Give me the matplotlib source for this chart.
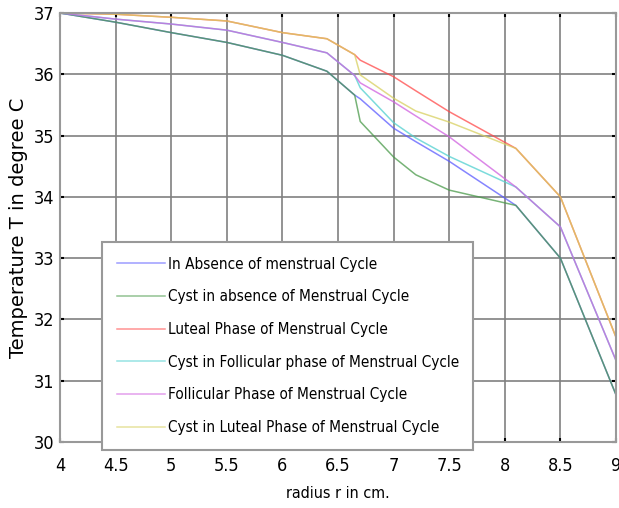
import matplotlib
matplotlib.use("Agg")
import matplotlib.pyplot as plt
from matplotlib.font_manager import FontProperties

# radius samples (cm)
r = [4, 4.5, 5, 5.5, 6, 6.4, 6.65, 6.7, 7, 7.2, 7.5, 8.1, 8.5, 9]

# temperature (deg C)
t_absence = [37, 36.85, 36.68, 36.52, 36.31, 36.05, 35.66, 35.60, 35.12, 34.90, 34.58, 33.86, 33.0, 30.77]
t_cyst_absence = [37, 36.85, 36.68, 36.52, 36.31, 36.05, 35.66, 35.23, 34.65, 34.36, 34.11, 33.86, 33.0, 30.77]
t_luteal = [37, 36.98, 36.93, 36.87, 36.68, 36.58, 36.32, 36.23, 35.96, 35.73, 35.39, 34.79, 34.0, 31.71]
t_cyst_follicular = [37, 36.90, 36.82, 36.72, 36.52, 36.35, 35.98, 35.78, 35.21, 34.96, 34.66, 34.16, 33.51, 31.33]
t_follicular = [37, 36.90, 36.82, 36.72, 36.52, 36.35, 35.98, 35.86, 35.55, 35.32, 34.98, 34.16, 33.51, 31.33]
t_cyst_luteal = [37, 36.98, 36.93, 36.87, 36.68, 36.58, 36.32, 35.99, 35.61, 35.40, 35.22, 34.79, 34.0, 31.71]

labels = ["In Absence of menstrual Cycle",
          "Cyst in absence of Menstrual Cycle",
          "Luteal Phase of Menstrual Cycle",
          "Cyst in Follicular phase of Menstrual Cycle",
          "Follicular Phase of Menstrual Cycle",
          "Cyst in Luteal Phase of Menstrual Cycle"]
series = [t_absence, t_cyst_absence, t_luteal, t_cyst_follicular, t_follicular, t_cyst_luteal]
colors = ["#5c5cff", "#4a9a4a", "#ff4a4a", "#50d0d0", "#d060e0", "#d8d060"]


def narrow(size):
    return FontProperties(family="DejaVu Sans", stretch="condensed", size=size)


fig = plt.figure(figsize=(6.19, 5.08), dpi=100)
ax = fig.add_axes([60/619, 1 - 442/508, 556/619, 429/508])

for y, c, lab in zip(series, colors, labels):
    ax.plot(r, y, color=c, lw=1.1, alpha=0.75, label=lab)

ax.set_xlim(4, 9)
ax.set_ylim(30, 37)
ax.set_xticks([4, 4.5, 5, 5.5, 6, 6.5, 7, 7.5, 8, 8.5, 9])
ax.set_xticklabels(["4", "4.5", "5", "5.5", "6", "6.5", "7", "7.5", "8", "8.5", "9"],
                   fontproperties=narrow(13))
ax.set_yticks(range(30, 38))
ax.set_yticklabels([str(v) for v in range(30, 38)], fontproperties=narrow(13))
ax.grid(True, color="#808080", lw=1.2)
ax.tick_params(direction="in", length=3, width=1.5, color="black",
               top=True, right=True)
ax.tick_params(axis="x", pad=11)
ax.tick_params(axis="y", pad=4)
for s in ax.spines.values():
    s.set_color("#999999")
    s.set_linewidth(1.5)

ax.set_xlabel("radius r in cm.", fontproperties=narrow(11.5), labelpad=8)
ax.set_ylabel("Temperature T in degree C", family="DejaVu Sans", fontsize=14, labelpad=4)

x0, y0, x1, y1 = 102/619, 1 - 449/508, 473/619, 1 - 242/508
leg = ax.legend(loc="upper left", bbox_to_anchor=(x0, y0, x1 - x0, y1 - y0), mode="expand",
                bbox_transform=fig.transFigure, prop=narrow(11),
                frameon=True, fancybox=False, framealpha=1, edgecolor="#999999",
                handlelength=3.2, handletextpad=0.2, labelspacing=1.16,
                borderpad=0.95, borderaxespad=0)
leg.get_frame().set_linewidth(1.5)
for h in leg.get_lines():
    h.set_alpha(0.6)

fig.savefig("out.png", dpi=100)
